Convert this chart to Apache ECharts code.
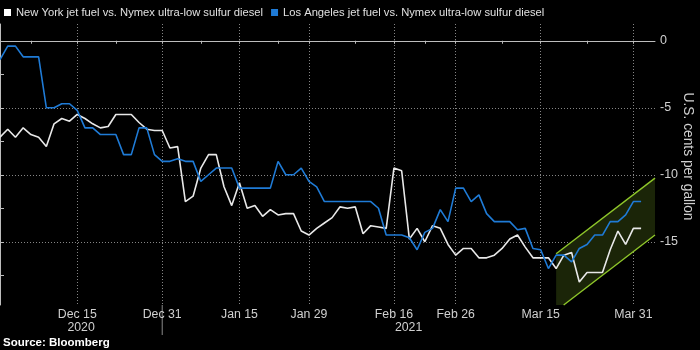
<!DOCTYPE html>
<html><head><meta charset="utf-8">
<script src="https://cdn.jsdelivr.net/npm/echarts@6/dist/echarts.min.js"></script>
<style>html,body{margin:0;padding:0;background:#000;}#c{width:700px;height:350px;}</style>
</head><body><div id="c"></div>
<script>
// trading days (category positions)
const dates = [
 '2020-12-01','2020-12-02','2020-12-03','2020-12-04','2020-12-07','2020-12-08','2020-12-09','2020-12-10','2020-12-11',
 '2020-12-14','2020-12-15','2020-12-16','2020-12-17','2020-12-18','2020-12-21','2020-12-22','2020-12-23','2020-12-24',
 '2020-12-28','2020-12-29','2020-12-30','2020-12-31',
 '2021-01-04','2021-01-05','2021-01-06','2021-01-07','2021-01-08','2021-01-11','2021-01-12','2021-01-13','2021-01-14',
 '2021-01-15','2021-01-19','2021-01-20','2021-01-21','2021-01-22','2021-01-25','2021-01-26','2021-01-27','2021-01-28','2021-01-29',
 '2021-02-01','2021-02-02','2021-02-03','2021-02-04','2021-02-05','2021-02-08','2021-02-09','2021-02-10','2021-02-11','2021-02-12',
 '2021-02-16','2021-02-17','2021-02-18','2021-02-19','2021-02-22','2021-02-23','2021-02-24','2021-02-25','2021-02-26',
 '2021-03-01','2021-03-02','2021-03-03','2021-03-04','2021-03-05','2021-03-08','2021-03-09','2021-03-10','2021-03-11','2021-03-12',
 '2021-03-15','2021-03-16','2021-03-17','2021-03-18','2021-03-19','2021-03-22','2021-03-23','2021-03-24','2021-03-25','2021-03-26',
 '2021-03-29','2021-03-30','2021-03-31','2021-04-01'
];
const nyValues = [
 -7.2,-6.6,-7.2,-6.5,-7.0,-7.2,-7.9,-6.2,-5.8,-6.0,
 -5.5,-5.8,-6.2,-6.5,-6.4,-5.5,-5.5,-5.5,-6.1,-6.6,
 -6.7,-6.7,-8.0,-7.9,-12.0,-11.6,-9.5,-8.5,-8.5,-10.9,
 -12.3,-10.6,-12.5,-12.3,-13.1,-12.6,-13.0,-12.9,-12.9,-14.2,
 -14.5,-14.0,-13.6,-13.2,-12.4,-12.5,-12.4,-14.4,-13.8,-13.9,
 -14.0,-9.5,-9.7,-14.8,-14.0,-15.0,-13.8,-14.0,-15.2,-16.0,
 -15.5,-15.5,-16.2,-16.2,-16.0,-15.5,-14.8,-14.5,-15.4,-16.2,
 -16.2,-16.2,-17.0,-16.0,-15.8,-18.0,-17.3,-17.3,-17.3,-15.6,
 -14.2,-15.2,-14.0,-14.0
];
const laValues = [
 -1.4,-0.4,-0.4,-1.2,-1.2,-1.2,-5.0,-5.0,-4.7,-4.7,
 -5.2,-6.5,-6.5,-7.0,-7.0,-7.0,-8.5,-8.5,-6.5,-6.5,
 -8.5,-9.0,-9.0,-8.8,-9.0,-9.0,-10.5,-10.0,-9.5,-9.5,
 -9.5,-11.0,-11.0,-11.0,-11.0,-11.0,-9.0,-10.0,-10.0,-9.5,
 -10.5,-10.9,-12.0,-12.0,-12.0,-12.0,-12.0,-12.0,-12.0,-12.5,
 -14.5,-14.5,-14.5,-14.7,-15.6,-14.3,-14.0,-12.6,-13.5,-11.0,
 -11.0,-12.0,-11.5,-12.9,-13.5,-13.5,-13.5,-14.1,-14.0,-15.5,
 -15.6,-17.0,-16.0,-16.0,-16.5,-15.5,-15.2,-14.5,-14.5,-13.5,
 -13.5,-13.0,-12.0,-12.0
];
const seriesNames = ['New York jet fuel vs. Nymex ultra-low sulfur diesel','Los Angeles jet fuel vs. Nymex ultra-low sulfur diesel'];
const labelDates = ['2020-12-15','2020-12-31','2021-01-15','2021-01-29','2021-02-16','2021-02-26','2021-03-15','2021-03-31'];
const minorTickDates = ['2020-12-07','2020-12-22','2021-01-08','2021-01-25','2021-02-08','2021-02-22','2021-03-08','2021-03-23'];
const yearLabels = ['2020','2021'];
const yLabelValues = [0,-5,-10,-15];
const yMinorTicks = [-2.5,-7.5,-12.5,-17.5];
// trend channel: starts at this date, ends at the axis end
const channelStartDate = '2021-03-17';
const channelTop = [-15.9,-10.25];
const channelBottom = [-20.15,-14.5];

const xMin = 0, xMax = 84.8;
const yMin = -19.72, yMax = 1.25;
const MONTHS = ['Jan','Feb','Mar','Apr','May','Jun','Jul','Aug','Sep','Oct','Nov','Dec'];
const idx = d => dates.indexOf(d);
const fmt = i => { const d = dates[Math.round(i)]; return MONTHS[+d.slice(5,7)-1] + ' ' + (+d.slice(8,10)); };
const FONT = 'Liberation Sans';
const TXT = '#d0d0d0';
const AX = '#bdbdbd';
const GRID = '#858585';

const chart = echarts.init(document.getElementById('c'), null, {renderer:'canvas'});
const labelIdx = labelDates.map(idx);
const minorIdx = minorTickDates.map(idx);
const cx0 = idx(channelStartDate), cx1 = xMax;

const option = {
  backgroundColor: '#000',
  animation: false,
  textStyle: {fontFamily: FONT},
  legend: {
    data: seriesNames, left: 4, top: 7, padding: 0, itemGap: 8,
    itemWidth: 7, itemHeight: 7, icon: 'rect',
    textStyle: {color: '#e0e0e0', fontSize: 11.2, fontFamily: FONT},
    selectedMode: false
  },
  grid: {left: 0, right: 45, top: 24, bottom: 45, containLabel: false},
  xAxis: [{
    type: 'value', min: xMin, max: xMax, position: 'bottom',
    axisLine: {show: true, lineStyle: {color: AX, width: 1}},
    axisTick: {show: true, customValues: labelIdx, length: 3, lineStyle: {color: AX}},
    axisLabel: {customValues: labelIdx, formatter: v => fmt(v), color: TXT, fontSize: 12.3, margin: 4, fontFamily: FONT},
    splitLine: {show: true, lineStyle: {color: GRID, type: [1,2], width: 1}}
  },{
    type: 'value', min: xMin, max: xMax, position: 'bottom',
    axisLine: {show: false},
    axisTick: {show: true, customValues: minorIdx, length: 3, lineStyle: {color: AX}},
    axisLabel: {show: false}, splitLine: {show: false}
  }],
  yAxis: [{
    type: 'value', min: yMin, max: yMax, position: 'right',
    axisLine: {show: true, lineStyle: {color: AX, width: 1}},
    axisTick: {show: true, customValues: yLabelValues, length: 4, lineStyle: {color: AX}},
    axisLabel: {customValues: yLabelValues, color: TXT, fontSize: 12.5, margin: 5, fontFamily: FONT},
    splitLine: {show: true, lineStyle: {color: GRID, type: [1,2], width: 1}}
  },{
    type: 'value', min: yMin, max: yMax, position: 'right',
    axisLine: {show: false},
    axisTick: {show: true, customValues: yMinorTicks, length: 4, lineStyle: {color: AX}},
    axisLabel: {show: false}, splitLine: {show: false}
  }],
  series: [{
    type: 'custom', name: 'channel', silent: true, z: 1,
    data: [[0]],
    renderItem: (params, api) => {
      // clip the lower edge at the axis minimum
      const t = (yMin - channelBottom[0]) / (channelBottom[1] - channelBottom[0]);
      const xi = cx0 + t * (cx1 - cx0);
      const pTop0 = api.coord([cx0, channelTop[0]]);
      const pTop1 = api.coord([cx1, channelTop[1]]);
      const pBot1 = api.coord([cx1, channelBottom[1]]);
      const pBotI = api.coord([xi, yMin]);
      const pBase0 = api.coord([cx0, yMin]);
      return {type: 'group', children: [
        {type: 'polygon', shape: {points: [pTop0, pTop1, pBot1, pBotI, pBase0]}, style: {fill: '#1b2508'}},
        {type: 'polyline', shape: {points: [pTop0, pTop1]}, style: {stroke: '#8fc72a', lineWidth: 1.4, fill: null}},
        {type: 'polyline', shape: {points: [pBotI, pBot1]}, style: {stroke: '#8fc72a', lineWidth: 1.4, fill: null}}
      ]};
    }
  },{
    type: 'line', name: seriesNames[0], z: 3,
    data: nyValues.map((v,i) => [i, v]),
    showSymbol: false, symbol: 'none',
    lineStyle: {color: '#e8e8e8', width: 1.6}, itemStyle: {color: '#ffffff'}
  },{
    type: 'line', name: seriesNames[1], z: 4,
    data: laValues.map((v,i) => [i, v]),
    showSymbol: false, symbol: 'none',
    lineStyle: {color: '#1f7bd6', width: 1.6}, itemStyle: {color: '#1f7bd6'}
  }]
};
chart.setOption(option);

// year labels, year separator, axis name, source
const px = v => chart.convertToPixel({xAxisIndex: 0}, v);
const py = v => chart.convertToPixel({yAxisIndex: 0}, v);
const xSplit = px(idx('2020-12-31'));
const xL = px(xMin), xR = px(xMax);
const yB = py(yMin), yT = py(yMax);
chart.setOption({graphic: [
  {type: 'line', shape: {x1: xSplit, y1: yB, x2: xSplit, y2: yB + 30}, style: {stroke: '#8a8a8a', lineWidth: 1}},
  {type: 'text', x: (xL + xSplit) / 2, y: yB + 23, style: {text: yearLabels[0], fill: TXT, font: '12.3px "Liberation Sans"', align: 'center', verticalAlign: 'middle'}},
  {type: 'text', x: (xSplit + xR) / 2, y: yB + 23, style: {text: yearLabels[1], fill: TXT, font: '12.3px "Liberation Sans"', align: 'center', verticalAlign: 'middle'}},
  {type: 'text', x: xR + 33, y: (yT + yB) / 2 - 8, rotation: -Math.PI / 2, style: {text: 'U.S. cents per gallon', fill: TXT, font: '13.8px "Liberation Sans"', align: 'center', verticalAlign: 'middle'}},
  {type: 'text', x: 3, y: yB + 38, style: {text: 'Source: Bloomberg', fill: '#ffffff', font: 'bold 11.5px "Liberation Sans"', align: 'left', verticalAlign: 'middle'}}
]});
</script></body></html>
